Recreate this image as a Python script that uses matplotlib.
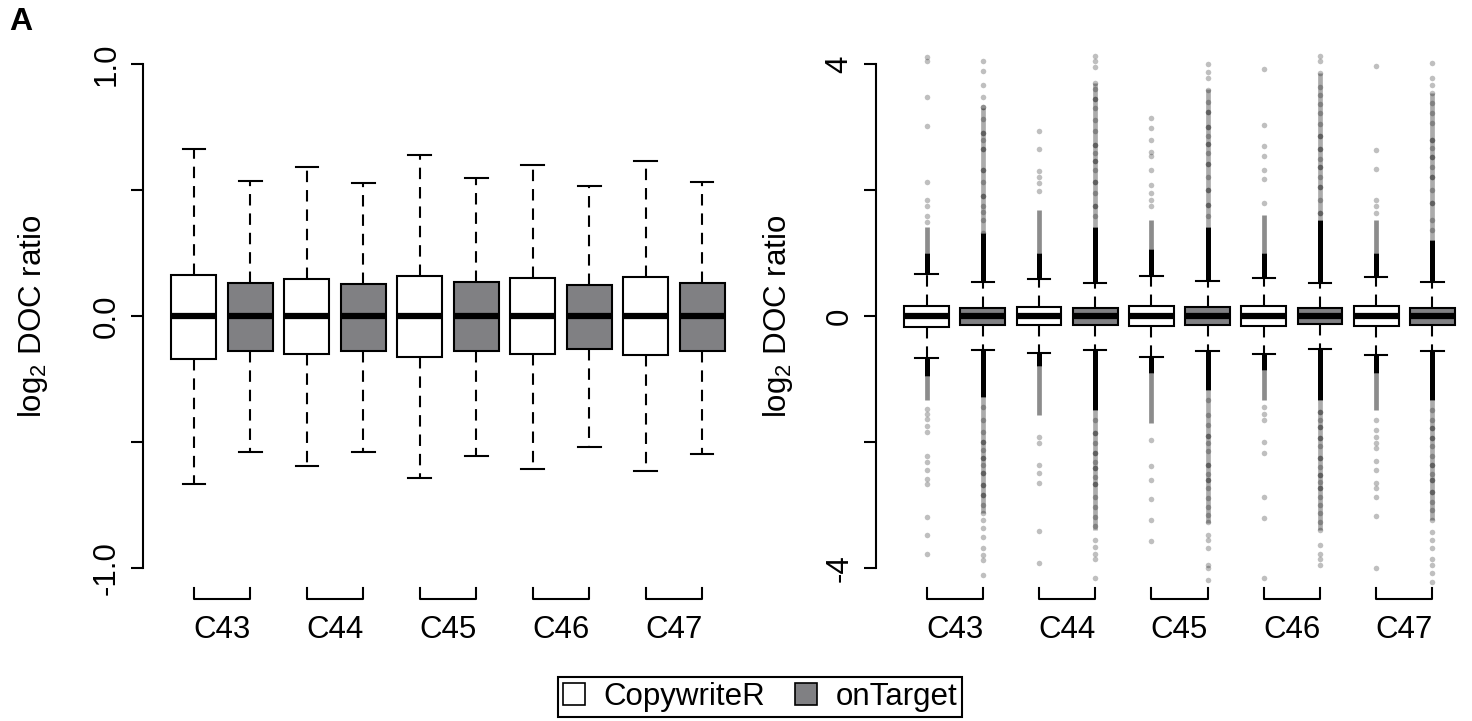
import matplotlib
matplotlib.use('Agg')
import matplotlib.pyplot as plt
import matplotlib.transforms as mtransforms
from matplotlib.patches import Patch

plt.rcParams['font.family'] = ['Liberation Sans', 'DejaVu Sans']
plt.rcParams['mathtext.fontset'] = 'custom'
plt.rcParams['mathtext.rm'] = 'Liberation Sans'
plt.rcParams['mathtext.default'] = 'regular'

samples = ['C43', 'C44', 'C45', 'C46', 'C47']
methods = ['CopywriteR', 'onTarget']
fills = ['white', '#808083']

# box order: C43 CopywriteR, C43 onTarget, C44 CopywriteR, ...
med = [0.0, 0.0, 0.0, 0.0, 0.0, 0.0, 0.0, 0.0, 0.0, 0.0]
q3 = [0.163, 0.131, 0.147, 0.126, 0.159, 0.135, 0.151, 0.123, 0.155, 0.131]
q1 = [-0.172, -0.139, -0.149, -0.139, -0.163, -0.139, -0.151, -0.131, -0.155, -0.139]
whis_hi = [0.663, 0.534, 0.593, 0.527, 0.640, 0.548, 0.600, 0.516, 0.615, 0.532]
whis_lo = [-0.667, -0.540, -0.595, -0.540, -0.643, -0.556, -0.607, -0.520, -0.615, -0.548]

# outliers (right panel): where the pile of points is solid black, where it fades out
solid_hi = [1.0, 1.31, 1.0, 1.42, 1.07, 1.42, 1.0, 1.53, 1.0, 1.2]
dense_hi = [1.42, 3.3, 1.68, 3.7, 1.53, 3.6, 1.6, 3.86, 1.53, 3.54]
solid_lo = [-0.96, -1.28, -0.80, -1.49, -0.91, -1.17, -0.86, -1.33, -0.91, -1.33]
dense_lo = [-1.33, -3.13, -1.57, -3.4, -1.70, -3.29, -1.33, -3.4, -1.49, -3.24]

# individual outliers
fliers_hi = [
    [1.50, 1.59, 1.75, 1.84, 2.13, 3.02, 3.48, 4.04, 4.11],
    [1.32, 1.53, 1.65, 1.74, 1.9, 1.9, 2.13, 2.32, 2.32, 2.65, 2.65, 2.79, 2.91, 2.91, 3.13, 3.32, 3.32, 3.48, 3.66, 3.89, 4.04],
    [1.99, 2.11, 2.21, 2.30, 2.65, 2.94],
    [1.58, 1.75, 1.75, 1.95, 2.13, 2.13, 2.32, 2.46, 2.46, 2.58, 2.71, 2.71, 2.93, 3.11, 3.3, 3.45, 3.45, 3.6, 3.70, 3.96, 4.04, 4.13],
    [1.74, 1.84, 1.95, 2.08, 2.32, 2.54, 2.61, 2.79, 2.98, 3.14],
    [1.58, 1.76, 1.76, 2.0, 2.0, 2.21, 2.41, 2.41, 2.58, 2.73, 2.73, 2.85, 3.0, 3.0, 3.24, 3.24, 3.40, 3.59, 3.77, 3.88, 4.0],
    [1.79, 2.17, 2.32, 2.54, 2.70, 3.03, 3.92],
    [1.63, 1.63, 1.84, 2.05, 2.05, 2.21, 2.37, 2.37, 2.5, 2.65, 2.65, 2.85, 2.85, 3.05, 3.22, 3.37, 3.51, 3.64, 3.86, 4.04, 4.13],
    [1.63, 1.74, 1.84, 2.33, 2.63, 3.97],
    [1.37, 1.53, 1.79, 1.79, 2.0, 2.21, 2.21, 2.37, 2.53, 2.53, 2.66, 2.8, 2.8, 3.06, 3.22, 3.38, 3.54, 3.67, 3.77, 4.01],
]
fliers_lo = [
    [-1.48, -1.55, -1.64, -1.74, -1.84, -2.23, -2.31, -2.45, -2.58, -2.66, -3.19, -3.47, -3.78],
    [-1.44, -1.65, -1.84, -2.0, -2.0, -2.13, -2.26, -2.26, -2.37, -2.49, -2.49, -2.68, -2.68, -2.84, -2.84, -3.0, -3.13, -3.24, -3.37, -3.5, -3.69, -3.79, -3.88, -4.11],
    [-1.92, -2.01, -2.37, -2.49, -2.65, -3.42, -3.92],
    [-1.65, -1.86, -1.86, -2.02, -2.18, -2.18, -2.31, -2.42, -2.42, -2.55, -2.66, -2.66, -2.87, -3.03, -3.19, -3.34, -3.56, -3.66, -3.77, -3.85, -4.16],
    [-1.97, -2.38, -2.60, -2.90, -3.24, -3.57],
    [-1.33, -1.57, -1.73, -1.9, -1.9, -2.02, -2.15, -2.37, -2.37, -2.5, -2.6, -2.6, -2.73, -2.89, -3.03, -3.16, -3.27, -3.48, -3.56, -3.69, -3.95, -4.0, -4.19],
    [-1.44, -1.55, -1.65, -2.0, -2.17, -2.87, -3.21, -4.16],
    [-1.53, -1.53, -1.65, -1.76, -1.76, -1.93, -1.93, -2.07, -2.26, -2.26, -2.39, -2.52, -2.52, -2.63, -2.73, -2.73, -2.87, -3.0, -3.13, -3.27, -3.4, -3.64, -3.77, -3.85, -3.95],
    [-1.65, -1.81, -1.92, -2.02, -2.10, -2.30, -2.45, -2.65, -2.73, -2.87, -3.17, -4.0],
    [-1.49, -1.65, -1.78, -1.78, -1.94, -1.94, -2.07, -2.23, -2.37, -2.37, -2.5, -2.6, -2.6, -2.79, -2.79, -2.95, -3.08, -3.24, -3.43, -3.56, -3.69, -3.86, -3.95, -4.08, -4.23],
]

positions = list(range(1, 11))
fs = 22.5


def draw_panel(ax, show_out, ylim, ticks, ticklabels):
    stats = []
    for i in range(10):
        st = dict(med=med[i], q1=q1[i], q3=q3[i], whislo=whis_lo[i], whishi=whis_hi[i],
                  fliers=fliers_hi[i] + fliers_lo[i] if show_out else [])
        stats.append(st)
    if show_out:
        # piled-up outliers just beyond the whiskers
        for i, p in enumerate(positions):
            a = 0.45 if i % 2 == 0 else 0.33
            ax.vlines(p, dense_lo[i], solid_lo[i], color='black', lw=3.4, alpha=a, zorder=1)
            ax.vlines(p, solid_hi[i], dense_hi[i], color='black', lw=3.4, alpha=a, zorder=1)
        ax.vlines(positions, solid_lo, whis_lo, color='black', lw=3.6, zorder=1)
        ax.vlines(positions, whis_hi, solid_hi, color='black', lw=3.6, zorder=1)
    bp = ax.bxp(stats, positions=positions, widths=0.8, patch_artist=True,
                showfliers=show_out, manage_ticks=False, capwidths=0.4,
                boxprops=dict(lw=1.5, edgecolor='black'),
                medianprops=dict(color='black', lw=4.5, solid_capstyle='butt'),
                whiskerprops=dict(color='black', lw=1.5, linestyle=(0, (5.5, 3.8))),
                capprops=dict(color='black', lw=1.5),
                flierprops=dict(marker='o', markersize=4, markerfacecolor='black',
                                markeredgecolor='none', alpha=0.25))
    for patch, c in zip(bp['boxes'], fills * 5):
        patch.set_facecolor(c)

    ax.set_xlim(0.1, 10.9)
    ax.set_ylim(*ylim)
    for s in ['top', 'right', 'bottom']:
        ax.spines[s].set_visible(False)
    ax.spines['left'].set_linewidth(1.5)
    ax.spines['left'].set_bounds(ticks[0], ticks[-1])
    ax.set_xticks([])
    ax.set_yticks(ticks)
    ax.set_yticklabels(ticklabels, rotation=90, va='center')
    ax.tick_params(axis='y', length=8.5, width=1.5, pad=7, labelsize=fs)
    ax.set_ylabel(r'log$_2$ DOC ratio', fontsize=fs)

    trans = mtransforms.blended_transform_factory(ax.transData, ax.transAxes)
    for g, name in enumerate(samples):
        x0 = positions[2 * g]
        x1 = positions[2 * g + 1]
        ax.plot([x0, x0, x1, x1], [0, -0.021, -0.021, 0], transform=trans,
                color='black', lw=1.5, clip_on=False)
        ax.text((x0 + x1) / 2, -0.078, name, transform=trans, ha='center',
                va='center', fontsize=fs)


fig = plt.figure(figsize=(14.72, 7.21), dpi=100)
ax1 = fig.add_axes([143 / 1472, 133 / 721, 610 / 1472, 544 / 721])
ax2 = fig.add_axes([876 / 1472, 133 / 721, 607 / 1472, 544 / 721])

draw_panel(ax1, False, (-272 / 252, 272 / 252), [-1, -0.5, 0, 0.5, 1], ['-1.0', '', '0.0', '', '1.0'])
draw_panel(ax2, True, (-272 / 63, 272 / 63), [-4, -2, 0, 2, 4], ['-4', '', '0', '', '4'])
ax1.yaxis.set_label_coords(-93 / 610, 0.5)
ax2.yaxis.set_label_coords(-81 / 607, 0.5)

fig.text(9 / 1472, 1 - 22 / 721, 'A', fontsize=23, fontweight='bold', va='center', ha='left')

handles = [Patch(facecolor=c, edgecolor='black', lw=1.2) for c in fills]
leg = fig.legend(handles, methods, ncol=2, loc='center', bbox_to_anchor=(760 / 1472, 1 - 697 / 721),
                 frameon=True, fancybox=False, edgecolor='black', fontsize=fs,
                 handlelength=0.7, handleheight=0.7, handletextpad=0.6,
                 columnspacing=0.95, borderpad=0.15, borderaxespad=0)
leg.get_frame().set_linewidth(1.5)
leg.get_frame().set_alpha(None)

fig.savefig('out.png', dpi=100)
